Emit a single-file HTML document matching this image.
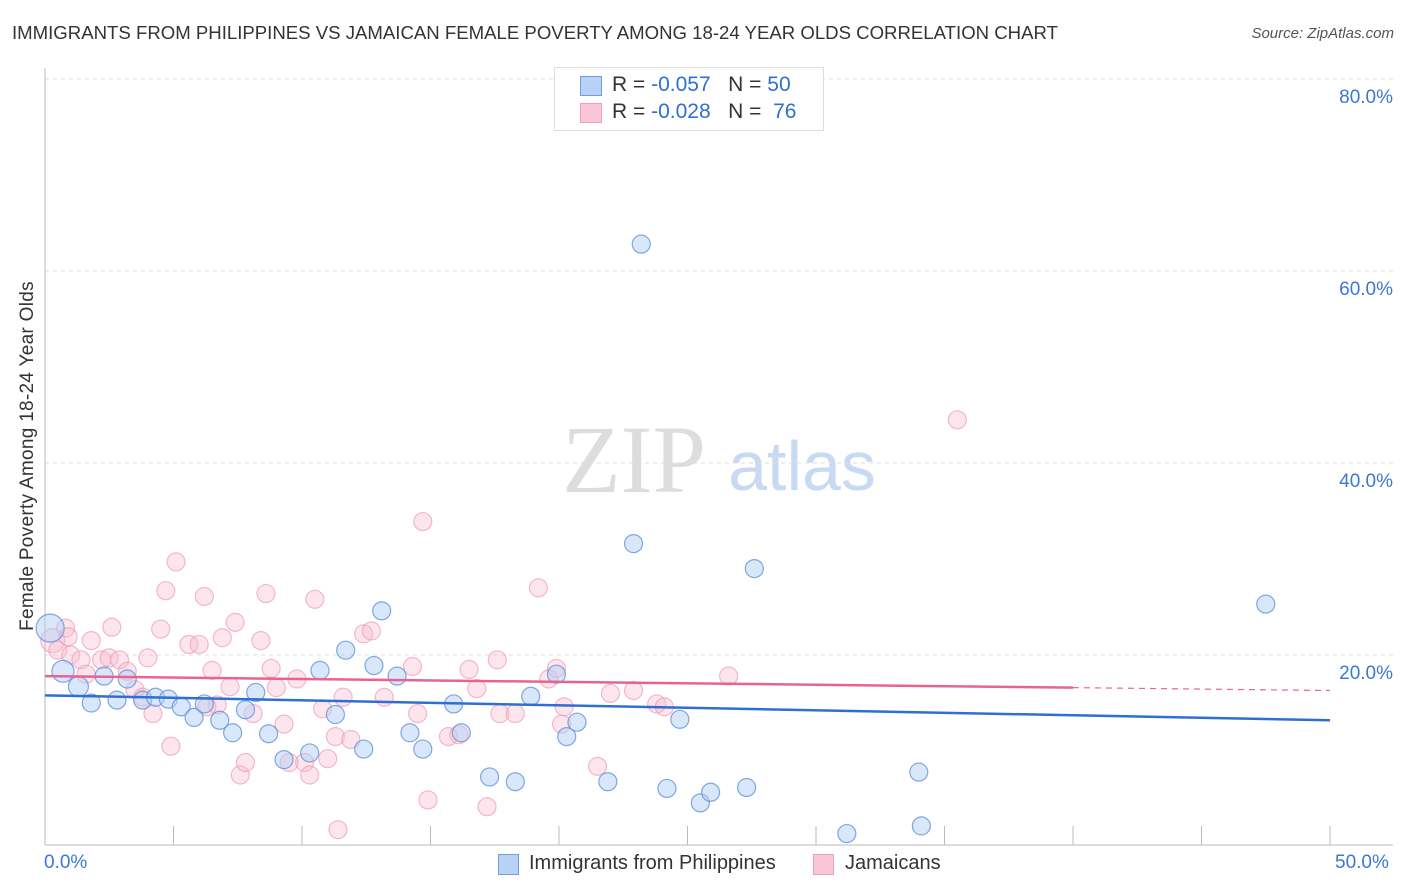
<!DOCTYPE html>
<html><head><meta charset="utf-8"><style>
body{margin:0;background:#fff;font-family:"Liberation Sans",sans-serif;}
#wrap{position:relative;width:1406px;height:892px;overflow:hidden;}
.t{position:absolute;white-space:nowrap;}
</style></head><body>
<div id="wrap">
<div class="t" style="left:12px;top:22px;font-size:18.6px;color:#333;">IMMIGRANTS FROM PHILIPPINES VS JAMAICAN FEMALE POVERTY AMONG 18-24 YEAR OLDS CORRELATION CHART</div>
<div class="t" style="right:12px;top:25px;font-size:15px;color:#555;font-style:italic;">Source: ZipAtlas.com</div>
<svg id="svg" width="1406" height="892" style="position:absolute;left:0;top:0">
<text x="634" y="492" font-family="Liberation Serif" font-size="96" fill="#ddd" text-anchor="middle">ZIP</text>
<text x="802" y="490" font-family="Liberation Sans" font-size="70" fill="#c8daf2" text-anchor="middle">atlas</text>
</svg>
<div style="position:absolute;left:554px;top:67px;width:268px;height:62px;border:1px solid #ddd;background:#fff;">
 <div style="position:absolute;left:25px;top:8px;width:20px;height:18px;background:#b8d2f5;border:1px solid #6f9ee0;"></div>
 <div class="t" style="left:57px;top:5px;font-size:21px;color:#333;">R = <span style="color:#2f6fd1">-0.057</span>&nbsp;&nbsp;&nbsp;N = <span style="color:#2f6fd1">50</span></div>
 <div style="position:absolute;left:25px;top:35px;width:20px;height:18px;background:#f8c6d5;border:1px solid #eea0b8;"></div>
 <div class="t" style="left:57px;top:32px;font-size:21px;color:#333;">R = <span style="color:#2f6fd1">-0.028</span>&nbsp;&nbsp;&nbsp;N = &nbsp;<span style="color:#2f6fd1">76</span></div>
</div>
<div class="t" style="left:28px;top:456px;font-size:19px;letter-spacing:0.3px;color:#333;transform:translate(-50%,-50%) rotate(-90deg);">Female Poverty Among 18-24 Year Olds</div>
<div class="t" style="left:44px;top:852px;font-size:19px;color:#3a78d6;">0.0%</div>
<div class="t" style="left:1335px;top:852px;font-size:19px;color:#3a78d6;">50.0%</div>
<div style="position:absolute;left:498px;top:854px;width:19px;height:19px;background:#b8d2f5;border:1px solid #6f9ee0;"></div>
<div class="t" style="left:529px;top:852px;font-size:20px;color:#333;">Immigrants from Philippines</div>
<div style="position:absolute;left:813px;top:854px;width:19px;height:19px;background:#f8c6d5;border:1px solid #eea0b8;"></div>
<div class="t" style="left:845px;top:852px;font-size:20px;color:#333;">Jamaicans</div>
</div>
<script>
const yTicks=[20,40,60,80];
const xTicks=[0,5,10,15,20,25,30,35,40,45,50];
const blueX=[0.2,0.7,1.3,1.8,2.3,2.8,3.2,3.8,4.3,4.8,5.3,5.8,6.2,6.8,7.3,7.8,8.2,8.7,9.3,10.3,10.7,11.3,11.7,12.4,12.8,13.1,13.7,14.2,14.7,15.9,16.2,17.3,18.3,18.9,19.9,20.3,20.7,21.9,22.9,23.2,24.2,24.7,25.5,25.9,27.3,27.6,31.2,34.0,34.1,47.5];
const blueY=[22.8,18.3,16.7,15.0,17.8,15.3,17.5,15.3,15.6,15.4,14.6,13.5,14.9,13.2,11.9,14.3,16.1,11.8,9.1,9.8,18.4,13.8,20.5,10.2,18.9,24.6,17.8,11.9,10.2,14.9,11.9,7.3,6.8,15.7,18.0,11.5,13.0,6.8,31.6,62.8,6.1,13.3,4.6,5.7,6.2,29.0,1.4,7.8,2.2,25.3];
const pinkX=[0.3,0.8,0.5,1.0,0.9,1.8,2.6,2.2,1.4,2.5,2.9,3.2,3.5,3.8,4.0,4.2,4.5,4.7,4.9,5.1,5.6,6.0,6.2,6.5,6.7,6.9,7.2,7.4,7.6,7.8,8.1,8.4,8.6,8.8,9.0,9.3,9.8,10.1,10.3,10.5,10.8,11.0,11.3,11.4,11.6,11.9,12.4,12.7,13.2,14.3,14.5,14.7,14.9,15.7,16.1,16.5,17.2,17.7,17.6,18.3,19.2,19.6,19.9,20.1,20.2,21.5,22.9,23.8,24.1,26.6,35.5,1.6,6.3,9.5,16.8,22.0];
const pinkY=[21.5,22.8,20.5,20.0,21.9,21.5,22.9,19.5,19.5,19.7,19.5,18.3,16.4,15.6,19.7,13.9,22.7,26.7,10.5,29.7,21.1,21.1,26.1,18.4,14.8,21.8,16.7,23.4,7.5,8.8,13.9,21.5,26.4,18.6,16.6,12.8,17.5,8.8,7.5,25.8,14.4,9.2,11.5,1.8,15.6,11.2,22.2,22.5,15.6,18.8,13.9,33.9,4.9,11.5,11.7,18.5,4.2,13.9,19.5,13.9,27.0,17.5,18.6,12.8,14.6,8.4,16.3,14.9,14.6,17.8,44.5,18.0,14.6,8.8,16.5,16.0];
const blueR=[14,11,10,9,9,9,9,9,9,9,9,9,9,9,9,9,9,9,9,9,9,9,9,9,9,9,9,9,9,9,9,9,9,9,9,9,9,9,9,9,9,9,9,9,9,9,9,9,9,9];
const X=v=>45+v*25.7, Y=v=>847-v*9.6;
const svg=document.getElementById('svg'),NS='http://www.w3.org/2000/svg';
function mk(t,a,name){const e=document.createElementNS(NS,t);for(const k in a)e.setAttribute(k,a[k]);


svg.appendChild(e);return e;}
yTicks.forEach(v=>{mk('line',{x1:45,x2:1393,y1:Y(v),y2:Y(v),stroke:'#ddd','stroke-dasharray':'4,4'},'gridline-y');
const t=mk('text',{x:1393,y:Y(v)+24,'text-anchor':'end','font-size':19,fill:'#3a78d6','font-family':'Liberation Sans'},'y-tick-label');t.textContent=v.toFixed(1)+'%';});
mk('line',{x1:45,x2:1393,y1:845,y2:845,stroke:'#bbb'},'x-axis');
mk('line',{x1:45,x2:45,y1:68,y2:845,stroke:'#bbb'},'y-axis');
xTicks.forEach((v,i)=>{if(i>0)mk('line',{x1:X(v),x2:X(v),y1:826,y2:845,stroke:'#bbb'},'x-tick');});
pinkX.forEach((x,i)=>mk('circle',{cx:X(x),cy:Y(pinkY[i]),r:i==0?12:9,fill:'rgba(248,190,208,0.4)',stroke:'rgba(236,150,178,0.65)','stroke-width':1.2},'pink-point'));
blueX.forEach((x,i)=>mk('circle',{cx:X(x),cy:Y(blueY[i]),r:blueR[i],fill:'rgba(180,208,245,0.5)',stroke:'rgba(90,140,215,0.75)','stroke-width':1.2},'blue-point'));
mk('line',{x1:X(0),y1:Y(15.8),x2:X(50),y2:Y(13.2),stroke:'#2f6fd1','stroke-width':2.5},'blue-trend-line');
mk('line',{x1:X(0),y1:Y(17.8),x2:X(40),y2:Y(16.6),stroke:'#e8648f','stroke-width':2.5},'pink-trend-line');
mk('line',{x1:X(40),y1:Y(16.6),x2:X(50),y2:Y(16.3),stroke:'#e8648f','stroke-width':1.2,'stroke-dasharray':'6,5'},'pink-trend-extension');
</script>
</body></html>
